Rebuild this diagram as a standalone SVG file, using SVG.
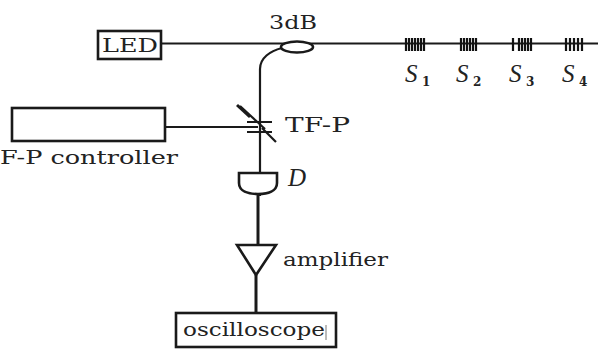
<svg xmlns="http://www.w3.org/2000/svg" width="598" height="352" viewBox="0 0 598 352">
<style>
text{font-family:"DejaVu Serif",serif;fill:#222}
.w{font-size:19px}
.b{fill:#fff;stroke:#1a1a1a;stroke-width:2.6}
.l{fill:none;stroke:#1a1a1a;stroke-width:2.2}
.t{fill:none;stroke:#1a1a1a;stroke-width:3}
.g{stroke:#111;stroke-width:2.2;fill:none}
.s{font-family:"Liberation Serif",serif;font-style:italic;font-size:25px}
.n{font-size:12px;font-weight:bold}
</style>
<g id="connectors">
<path class="l" d="M161 43.5H598"/>
<path class="l" d="M282 48C270 51 260 58 260 69V196"/>
<path class="l" d="M165 127H258"/>
<path class="t" d="M258 194V244"/>
<path class="t" d="M256 275V316"/>
</g>
<g id="led"><rect class="b" x="98" y="31" width="63" height="28"/><text class="w" x="102" y="52" textLength="56" lengthAdjust="spacingAndGlyphs">LED</text></g>
<g id="coupler"><ellipse cx="297" cy="47" rx="16" ry="5.5" class="b"/><text class="w" x="269" y="29" textLength="48" lengthAdjust="spacingAndGlyphs">3dB</text></g>
<g id="s1"><path class="g" d="M406 38v13M409 38v13M412 38v13M415 38v13M418 38v13M421 38v13M424 38v13"/><text class="s" x="405" y="82">S</text><text class="n" x="422" y="86">1</text></g>
<g id="s2"><path class="g" d="M461 38v13M464 38v13M467 38v13M470 38v13M473 38v13M476 38v13"/><text class="s" x="456" y="82">S</text><text class="n" x="473" y="86">2</text></g>
<g id="s3"><path class="g" d="M513 38v13M519 38v13M522 38v13M525 38v13M528 38v13M531 38v13"/><text class="s" x="509" y="82">S</text><text class="n" x="526" y="86">3</text></g>
<g id="s4"><path class="g" d="M566 38v13M570 38v13M574 38v13M578 38v13M582 38v13"/><text class="s" x="562" y="82">S</text><text class="n" x="579" y="86">4</text></g>
<g id="controller"><rect class="b" x="12" y="108" width="153" height="33"/><text class="w" x="0" y="164" textLength="178" lengthAdjust="spacingAndGlyphs">F-P controller</text></g>
<g id="tfp"><path class="l" d="M247 122H272M247 132H272"/><path class="l" d="M240 106L265 129"/><path class="t" d="M237 105L250 117"/><path class="l" d="M262 128L276 142"/><text x="285" y="132" font-size="20" textLength="65" lengthAdjust="spacingAndGlyphs">TF-P</text></g>
<g id="detector"><path class="b" d="M239 173H277V183C277 191 268 194 258 194C248 194 239 191 239 183Z"/><text class="s" x="288" y="186">D</text></g>
<g id="amplifier"><path class="b" d="M237 245H276L256 275Z"/><text class="w" x="283" y="266" textLength="105" lengthAdjust="spacingAndGlyphs">amplifier</text></g>
<g id="oscilloscope"><rect class="b" x="176" y="313" width="160" height="34"/><text class="w" x="183" y="336" textLength="142" lengthAdjust="spacingAndGlyphs">oscilloscope</text><path d="M326 325V340" stroke="#777" stroke-width="1"/></g>
</svg>
